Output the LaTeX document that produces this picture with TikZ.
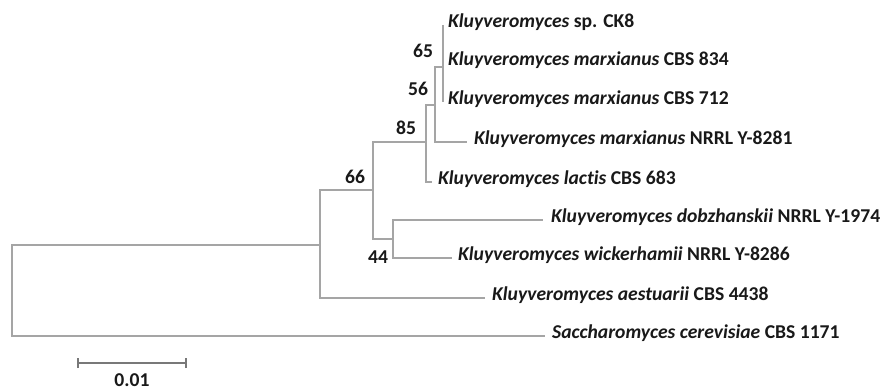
\documentclass[tikz,border=0pt]{standalone}
\usepackage{fontspec}
\setmainfont{Carlito}[Ligatures={NoCommon}]
\definecolor{branch}{RGB}{165,165,165}
\definecolor{scalecol}{RGB}{120,120,120}
\definecolor{txt}{RGB}{25,25,25}
\newcommand{\gen}[1]{\textbf{\textit{#1}}}
\begin{document}
\begin{tikzpicture}[x=1bp,y=-1bp,
  br/.style={draw=branch,line width=1.1bp},
  leaf/.style={anchor=west,inner sep=0pt,text=txt,font=\fontsize{19.6bp}{22bp}\selectfont\bfseries,text height=0.7em,text depth=0.2em},
  boot/.style={inner sep=0pt,text=txt,font=\fontsize{19.6bp}{22bp}\selectfont\bfseries}]
\useasboundingbox (0,0) rectangle (892,391);
% internal nodes
\coordinate (R) at (12,290.5);
\coordinate (A) at (320,245);
\coordinate (B) at (373,190);
\coordinate (C) at (426,142);
\coordinate (E) at (435,105);
\coordinate (F) at (443,67);
\coordinate (D) at (393,239);
% tips
\coordinate (t1) at (443,25);
\coordinate (t2) at (443,63);
\coordinate (t3) at (443,102);
\coordinate (t4) at (467,142);
\coordinate (t5) at (432,182);
\coordinate (t6) at (543,220);
\coordinate (t7) at (452,258);
\coordinate (t8) at (485,298);
\coordinate (t9) at (545,336);
% branches
\draw[br] (R) |- (A);
\draw[br] (R) |- (t9);
\draw[br] (A) |- (B);
\draw[br] (A) |- (t8);
\draw[br] (B) |- (C);
\draw[br] (B) |- (D);
\draw[br] (C) |- (E);
\draw[br] (C) |- (t5);
\draw[br] (E) |- (F);
\draw[br] (E) |- (t4);
\draw[br] (t1) -- (t3);
\draw[br] (D) |- (t6);
\draw[br] (D) |- (t7);
% leaf labels
\node[leaf] (l1) at ([xshift=5bp]t1) {\gen{Kluyveromyces} sp. CK8};
\node[leaf] (l2) at ([xshift=5bp]t2) {\gen{Kluyveromyces marxianus} CBS 834};
\node[leaf] (l3) at ([xshift=5bp]t3) {\gen{Kluyveromyces marxianus} CBS 712};
\node[leaf] (l4) at ([xshift=7bp]t4) {\gen{Kluyveromyces marxianus} NRRL Y-8281};
\node[leaf] (l5) at ([xshift=6bp]t5) {\gen{Kluyveromyces lactis} CBS 683};
\node[leaf] (l6) at ([xshift=8bp]t6) {\gen{Kluyveromyces dobzhanskii} NRRL Y-1974};
\node[leaf] (l7) at ([xshift=6bp]t7) {\gen{Kluyveromyces wickerhamii} NRRL Y-8286};
\node[leaf] (l8) at ([xshift=7bp]t8) {\gen{Kluyveromyces aestuarii} CBS 4438};
\node[leaf] (l9) at ([xshift=7bp]t9) {\gen{Saccharomyces cerevisiae} CBS 1171};
% bootstrap values
\node[boot] (b65) at (423,51) {65};
\node[boot] (b56) at (418,89) {56};
\node[boot] (b85) at (406,128) {85};
\node[boot] (b66) at (355,177) {66};
\node[boot] (b44) at (378,257) {44};
% scale bar
\coordinate (s1) at (78,363);
\coordinate (s2) at (186,363);
\draw[draw=scalecol,line width=1.1bp] (s1) -- (s2);
\draw[draw=scalecol,line width=1.1bp] ([yshift=-5bp]s1) -- ([yshift=5bp]s1);
\draw[draw=scalecol,line width=1.1bp] ([yshift=-5bp]s2) -- ([yshift=5bp]s2);
\node[boot] (sl) at (132,380) {0.01};
\end{tikzpicture}
\end{document}
